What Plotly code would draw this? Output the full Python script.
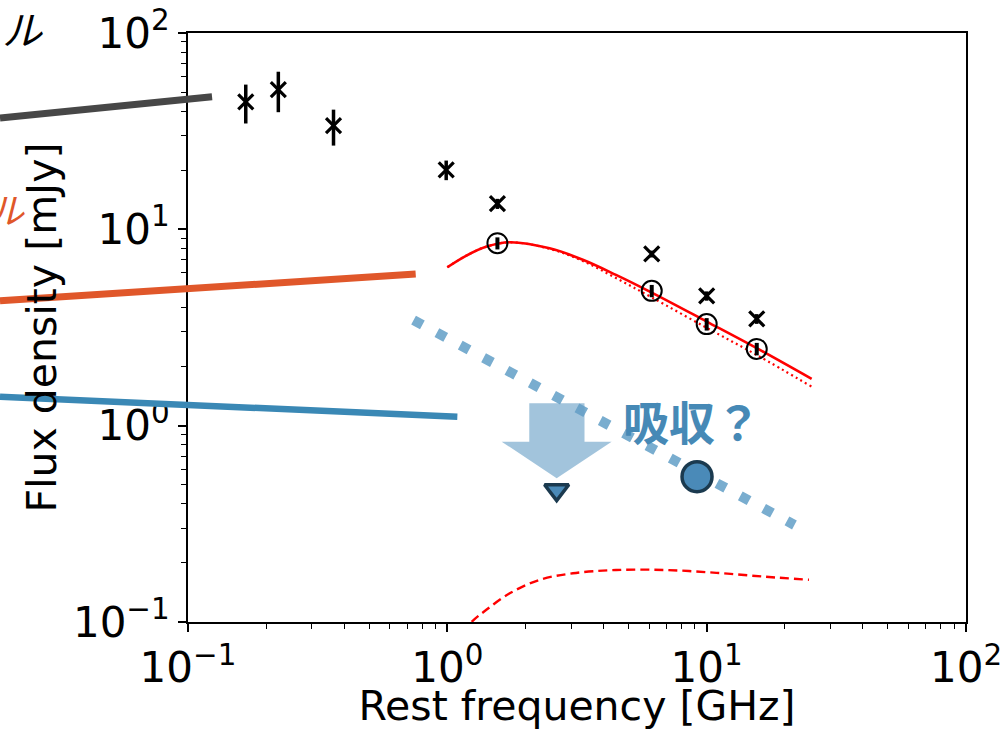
import numpy as np
import plotly.graph_objects as go

# ---------------- data ----------------
# black crosses (total flux) with error bars
cross_x = [0.167, 0.223, 0.364, 0.99, 1.56, 6.14, 10.0, 15.6]
cross_y = [44.6, 51.5, 33.7, 20.1, 13.5, 7.49, 4.58, 3.50]
cross_err = [10.0, 12.0, 7.0, 2.3, 0.8, 0.3, 0.25, 0.2]

# open circles (component) with error bars
circ_x = [1.56, 6.14, 10.0, 15.6]
circ_y = [8.5, 4.86, 3.29, 2.46]
circ_err = [0.6, 0.35, 0.24, 0.18]

# red model curves
model_x = [1.00, 1.18, 1.41, 1.74, 2.48, 3.33, 4.47, 6.14, 10.0, 15.6, 25.4]
model_solid = [6.41, 7.33, 8.15, 8.59, 8.00, 7.00, 5.86, 4.76, 3.39, 2.48, 1.73]
model_dotted = [6.41, 7.33, 8.15, 8.59, 7.96, 6.90, 5.65, 4.50, 3.15, 2.29, 1.58]
dash_x = [1.15, 1.24, 1.41, 1.74, 2.27, 3.05, 4.47, 6.97, 10.9, 16.9, 24.8]
dash_y = [0.088, 0.100, 0.115, 0.140, 0.164, 0.177, 0.184, 0.184, 0.178, 0.170, 0.164]

# blue thick dotted power law
pl_x = [0.741, 21.8]
pl_y = [3.45, 0.312]

# blue detections
tri_x, tri_y = [2.64], [0.470]
dot_x, dot_y = [9.18], [0.550]

# light-blue arrow outline (data units)
arrow_x = [2.07, 3.38, 3.38, 4.30, 2.64, 1.62, 2.07, 2.07]
arrow_y = [1.30, 1.30, 0.829, 0.829, 0.540, 0.829, 0.829, 1.30]

# legend-like lines that run off the left side (data units)
gray_x, gray_y = [0.01884, 0.1238], [36.9, 47.4]
orange_x, orange_y = [0.01884, 0.755], [4.33, 5.92]
blue_x, blue_y = [0.01884, 1.093], [1.405, 1.111]

XLOG = [-1, 2]
YLOG = [-1, 2]
tick_vals = [0.1, 1, 10, 100]
tick_text = ["10<sup>\u22121</sup>", "10<sup>0</sup>", "10<sup>1</sup>", "10<sup>2</sup>"]
minor_vals = [m * 10.0 ** e for e in range(-1, 2) for m in range(2, 10)]

BLUE = "#4a8ab8"
EDGE = "#1b3a4f"


def px_(v):
    return (np.log10(v) - XLOG[0]) / (XLOG[1] - XLOG[0])


def py_(v):
    return (np.log10(v) - YLOG[0]) / (YLOG[1] - YLOG[0])


fig = go.Figure()

fig.add_trace(go.Scatter(x=model_x, y=model_dotted, mode="lines",
                         line=dict(color="red", width=2.2, dash="2px,3.3px", shape="spline", smoothing=1)))
fig.add_trace(go.Scatter(x=model_x, y=model_solid, mode="lines",
                         line=dict(color="red", width=2.6, shape="spline", smoothing=1)))
fig.add_trace(go.Scatter(x=dash_x, y=dash_y, mode="lines",
                         line=dict(color="red", width=2.4, dash="9px,5px", shape="spline")))

fig.add_trace(go.Scatter(x=pl_x, y=pl_y, mode="lines",
                         line=dict(color="#79adcf", width=10, dash="10px,16.5px")))

fig.add_trace(go.Scatter(x=arrow_x, y=arrow_y, mode="lines", fill="toself",
                         fillcolor="rgba(100,157,197,0.6)", line=dict(width=0)))

fig.add_trace(go.Scatter(x=cross_x, y=cross_y, mode="markers",
                         marker=dict(symbol="x-thin", size=15, line=dict(color="black", width=3.2)),
                         error_y=dict(type="data", array=cross_err, color="black", thickness=3.5, width=0)))
fig.add_trace(go.Scatter(x=circ_x, y=circ_y, mode="markers",
                         marker=dict(symbol="circle-open", size=20, color="black", line=dict(color="black", width=2)),
                         error_y=dict(type="data", array=circ_err, color="black", thickness=4, width=0)))

fig.add_trace(go.Scatter(x=tri_x, y=tri_y, mode="markers",
                         marker=dict(symbol="triangle-down", size=21, color=BLUE, line=dict(color=EDGE, width=3.5))))
fig.add_trace(go.Scatter(x=dot_x, y=dot_y, mode="markers",
                         marker=dict(symbol="circle", size=30, color=BLUE, line=dict(color=EDGE, width=3.5))))

for xs, ys, col, w in [(gray_x, gray_y, "#474747", 7), (orange_x, orange_y, "#e0572a", 7),
                       (blue_x, blue_y, "#3a88b5", 6.5)]:
    fig.add_shape(type="line", xref="paper", yref="paper",
                  x0=px_(xs[0]), y0=py_(ys[0]), x1=px_(xs[1]), y1=py_(ys[1]),
                  line=dict(color=col, width=w), layer="above")

fig.add_annotation(x=0.9435, y=0.0289, xref="x", yref="y", text="<b>吸収？</b>", showarrow=False,
                   font=dict(family="Noto Sans CJK JP", size=46, color="#4689b6"))
fig.add_annotation(x=-0.184, y=1.0085, xref="paper", yref="paper", xanchor="right", yanchor="middle",
                   text="ル", showarrow=False,
                   font=dict(family="Noto Sans CJK JP", size=40, color="black", style="italic"))
fig.add_annotation(x=-0.207, y=0.703, xref="paper", yref="paper", xanchor="right", yanchor="middle",
                   text="ル", showarrow=False,
                   font=dict(family="Noto Sans CJK JP", size=36, color="#e0572a", style="italic"))

axis_common = dict(type="log", showline=True, linecolor="black", linewidth=1.8, mirror=True,
                   ticks="outside", ticklen=8, tickwidth=1.8, tickcolor="black",
                   tickmode="array", tickvals=tick_vals, ticktext=tick_text,
                   showgrid=False, zeroline=False,
                   tickfont=dict(family="DejaVu Sans", size=42, color="black"),
                   minor=dict(tickmode="array", tickvals=minor_vals, ticks="outside",
                              ticklen=5, tickwidth=1.3, tickcolor="black", showgrid=False))

fig.update_xaxes(range=XLOG, title=dict(text="Rest frequency [GHz]", standoff=5,
                                        font=dict(family="DejaVu Sans", size=41, color="black")),
                 **axis_common)
fig.update_yaxes(range=YLOG, title=dict(text="Flux density [mJy]", standoff=4,
                                        font=dict(family="DejaVu Sans", size=41, color="black")),
                 **axis_common)

fig.update_layout(width=1005, height=730, showlegend=False,
                  margin=dict(l=188, r=39, t=33, b=108, autoexpand=False),
                  plot_bgcolor="white", paper_bgcolor="white")

fig.write_html("out.html")
